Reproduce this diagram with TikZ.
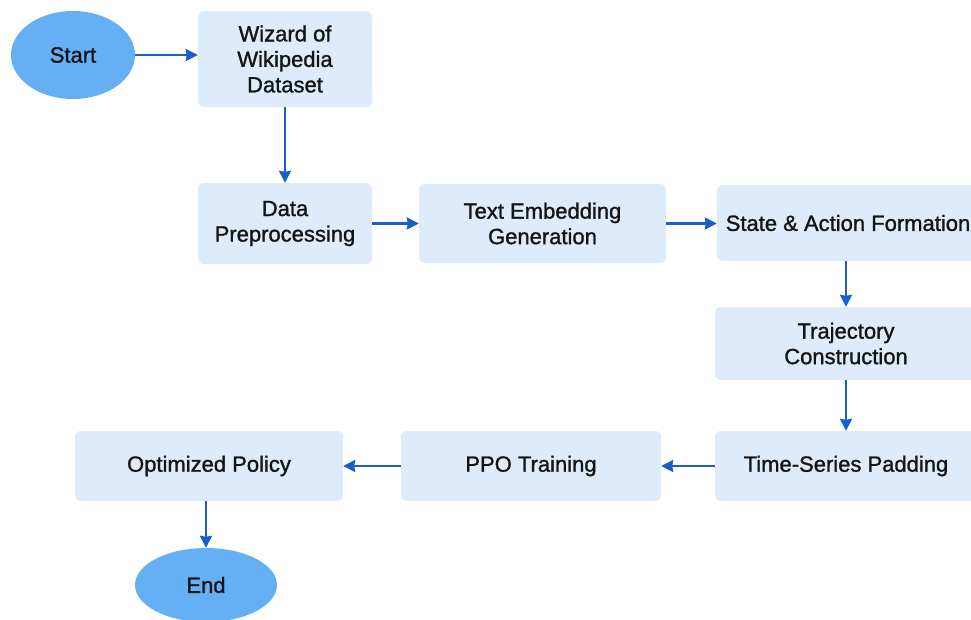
\documentclass[tikz,border=0pt]{standalone}
\usepackage{fontspec}
\setmainfont{Liberation Sans}[FakeBold=1.2]
\usetikzlibrary{shapes.geometric,arrows.meta}
\definecolor{boxfill}{HTML}{DDEBFA}
\definecolor{ellfill}{HTML}{65AFF5}
\definecolor{arrowc}{HTML}{1A5FC8}
\definecolor{txt}{HTML}{141414}
\tikzset{
  box/.style={fill=boxfill, rounded corners=6pt, align=center, inner sep=0pt,
    text=txt, font=\fontsize{22}{25.5}\selectfont},
  term/.style={ellipse, fill=ellfill, inner sep=0pt, text=txt,
    font=\fontsize{22}{25.5}\selectfont},
  arr/.style={draw=arrowc, line width=2.4pt, -{Stealth[length=12pt,width=12pt,inset=1pt]}}
}
\begin{document}
\begin{tikzpicture}[x=1pt,y=-1pt]
\clip (0,0) rectangle (971,619);
\fill[white] (0,0) rectangle (971,619);
\node[term, minimum width=124pt, minimum height=88pt] (start) at (73,55) {Start};
\node[box, minimum width=174pt, minimum height=96pt] (wiz) at (285,59) {Wizard of\\Wikipedia\\Dataset};
\node[box, minimum width=174pt, minimum height=81pt] (data) at (285,223.5) {Data\\Preprocessing};
\node[box, minimum width=247pt, minimum height=79pt] (emb) at (542.5,223.5) {Text Embedding\\Generation};
\node[box, minimum width=262pt, minimum height=76pt] (state) at (848,223) {State \& Action Formation};
\node[box, minimum width=262pt, minimum height=73pt] (traj) at (846,343.5) {Trajectory\\Construction};
\node[box, minimum width=262pt, minimum height=70pt] (time) at (846,466) {Time-Series Padding};
\node[box, minimum width=260pt, minimum height=70pt] (ppo) at (531,466) {PPO Training};
\node[box, minimum width=268pt, minimum height=70pt] (opt) at (209,466) {Optimized Policy};
\node[term, minimum width=142pt, minimum height=74pt] (end) at (206,585) {End};
\draw[arr] (start.east) -- (wiz.west |- start.east);
\draw[arr] (wiz.south) -- (data.north);
\draw[arr] (data.east) -- (emb.west);
\draw[arr] (emb.east) -- (state.west |- emb.east);
\draw[arr] (state.south -| traj) -- (traj.north);
\draw[arr] (traj.south) -- (time.north);
\draw[arr] (time.west) -- (ppo.east);
\draw[arr] (ppo.west) -- (opt.east);
\draw[arr] (opt.south -| end) -- (end.north);
\end{tikzpicture}
\end{document}
